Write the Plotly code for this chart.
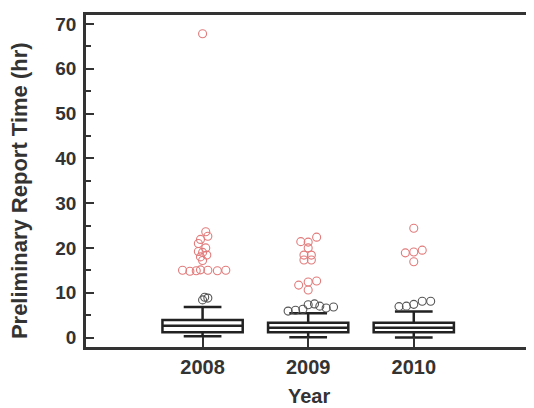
import plotly.graph_objects as go

# ---- data ----
years = [2008, 2009, 2010]
q1 = [1.2, 1.15, 1.15]
median = [2.6, 2.2, 2.2]
q3 = [3.9, 3.3, 3.3]
lower_whisker = [0.3, 0.05, 0.0]
upper_whisker = [6.8, 5.4, 5.8]

# mild outliers (black) and extreme outliers (red), per year
mild_2008 = [8.4, 9.0, 8.8]
mild_2009 = [5.9, 6.1, 6.3, 7.3, 7.5, 7.0, 6.6, 6.8]
mild_2010 = [6.9, 7.0, 7.4, 8.1, 8.1]
extreme_2008 = [67.8, 23.6, 22.6, 21.9, 21.0, 20.0, 19.2, 19.0, 18.4, 18.0, 17.2,
                15.0, 14.8, 14.9, 15.1, 15.0, 14.9, 15.0]
extreme_2009 = [21.4, 21.3, 22.4, 20.0, 18.4, 18.4, 17.3, 17.3, 11.7, 12.4, 12.6, 10.6]
extreme_2010 = [24.4, 18.9, 19.1, 19.5, 16.9]

# horizontal spread of the outlier symbols (in years, relative to box centre)
mild_off_2008 = [0.0, 0.02, 0.05]
mild_off_2009 = [-0.19, -0.12, -0.05, 0.0, 0.06, 0.11, 0.17, 0.24]
mild_off_2010 = [-0.14, -0.07, 0.0, 0.08, 0.16]
extreme_off_2008 = [0.0, 0.03, 0.05, -0.02, -0.04, 0.03, -0.04, 0.0, 0.04, -0.02, 0.0,
                    -0.19, -0.12, -0.06, -0.02, 0.05, 0.14, 0.22]
extreme_off_2009 = [-0.07, 0.0, 0.08, 0.0, -0.04, 0.03, -0.04, 0.03, -0.09, 0.0, 0.08, 0.0]
extreme_off_2010 = [0.0, -0.08, 0.0, 0.08, 0.0]

RED = "#e27b7b"
DARK = "#333333"
FONT = "Liberation Sans"

fig = go.Figure()

fig.add_trace(go.Box(
    x=years, q1=q1, median=median, q3=q3,
    lowerfence=lower_whisker, upperfence=upper_whisker,
    width=0.76, whiskerwidth=0.47,
    fillcolor="white", line=dict(color="#222222", width=2.5),
    boxpoints=False, showlegend=False, hoverinfo="skip",
))

def add_points(vals, offs, year, color):
    fig.add_trace(go.Scatter(
        x=[year + o for o in offs], y=vals, mode="markers",
        marker=dict(symbol="circle-open", size=8, color=color, line=dict(width=1.1)),
        showlegend=False, hoverinfo="skip",
    ))

add_points(mild_2008, mild_off_2008, 2008, "#555555")
add_points(mild_2009, mild_off_2009, 2009, "#555555")
add_points(mild_2010, mild_off_2010, 2010, "#555555")
add_points(extreme_2008, extreme_off_2008, 2008, RED)
add_points(extreme_2009, extreme_off_2009, 2009, RED)
add_points(extreme_2010, extreme_off_2010, 2010, RED)

fig.update_layout(
    width=526, height=400,
    margin=dict(l=78, r=0, t=7, b=61),
    plot_bgcolor="white", paper_bgcolor="white",
    font=dict(family=FONT, size=19, color=DARK, weight="bold"),
    annotations=[
        dict(text="Preliminary Report Time (hr)", textangle=-90,
             xref="paper", yref="paper", x=-0.148, y=0.47,
             xanchor="center", yanchor="middle", showarrow=False,
             font=dict(size=22, weight="bold", color=DARK)),
        dict(text="Year", xref="paper", yref="paper", x=0.5, y=-0.148,
             xanchor="center", yanchor="middle", showarrow=False,
             font=dict(size=20, weight="bold", color=DARK)),
    ],
)
fig.update_xaxes(
    range=[2006.896, 2011.11], tickmode="array", tickvals=years,
    ticktext=[str(y) for y in years],
    ticks="inside", ticklen=10, tickwidth=2, tickcolor=DARK,
    showline=True, linewidth=2.5, linecolor=DARK, mirror=True,
    showgrid=False, zeroline=False, ticklabelstandoff=0,
    tickfont=dict(size=20, weight="bold"),
)
fig.update_yaxes(
    range=[-2.12, 72.0], tickmode="linear", tick0=0, dtick=10,
    ticks="inside", ticklen=8, tickwidth=2, tickcolor=DARK,
    minor=dict(ticks="inside", ticklen=5, tickwidth=1.5, tickcolor=DARK, dtick=5, tick0=0),
    showline=True, linewidth=2.5, linecolor=DARK, mirror=True,
    showgrid=False, zeroline=False, ticklabelstandoff=3,
    tickfont=dict(size=19, weight="bold"),
)

fig.write_html("out.html")
